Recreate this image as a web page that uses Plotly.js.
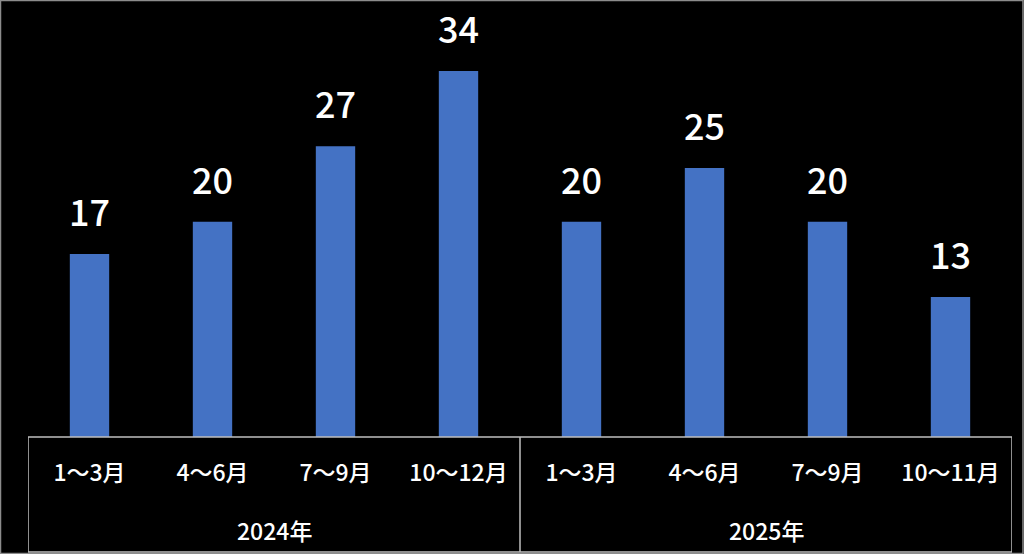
<!DOCTYPE html>
<html>
<head>
<meta charset="utf-8">
<script src="https://cdn.plot.ly/plotly-3.0.1.min.js"></script>
<style>
html,body{margin:0;padding:0;background:#000;}
#chart{width:1024px;height:554px;}
</style>
</head>
<body>
<div id="chart"></div>
<script>
const months = ["1〜3月","4〜6月","7〜9月","10〜12月","1〜3月","4〜6月","7〜9月","10〜11月"];
const years = ["2024年","2025年"];
const counts = [17,20,27,34,20,25,20,13];
const monthsPerYear = [4,4];

const idx = counts.map((_, i) => i);
const FONT = '"Noto Sans CJK JP", "Noto Sans", sans-serif';
const lineColor = '#bfbfbf';

const W = 1024, H = 554;
const L = 28, R = 12, T = 10, B = 117;
const plotW = W - L - R, plotH = H - T - B;
const boxBottom = -(552 - (H - B)) / plotH;

const annotations = [];
counts.forEach((v, i) => {
  annotations.push({
    x: i, y: v, xref: 'x', yref: 'y', text: String(v),
    showarrow: false, yanchor: 'bottom', yshift: 16,
    font: {family: FONT, size: 36, color: '#ffffff', weight: 500}
  });
});
let start = 0;
years.forEach((yr, k) => {
  const n = monthsPerYear[k];
  annotations.push({
    x: start + (n - 1) / 2, y: -(530 - (H - B)) / plotH, xref: 'x', yref: 'paper',
    text: yr, showarrow: false, yanchor: 'middle',
    font: {family: FONT, size: 23, color: '#ffffff', weight: 500}
  });
  start += n;
});

const shapes = [];
shapes.push({type: 'line', xref: 'x', yref: 'paper', x0: -0.5, x1: counts.length - 0.5, y0: 0, y1: 0, line: {color: lineColor, width: 1.5}});
shapes.push({type: 'line', xref: 'x', yref: 'paper', x0: -0.5, x1: counts.length - 0.5, y0: boxBottom, y1: boxBottom, line: {color: lineColor, width: 1.5}});
let acc = 0;
const divs = [-0.5];
monthsPerYear.forEach(n => { acc += n; divs.push(acc - 0.5); });
divs.forEach(xv => {
  shapes.push({type: 'line', xref: 'x', yref: 'paper', x0: xv, x1: xv, y0: 0, y1: boxBottom, line: {color: lineColor, width: 1.5}});
});
shapes.push({type: 'rect', xref: 'paper', yref: 'paper',
  x0: -L / plotW + 0.5 / plotW, x1: 1 + (R - 1) / plotW,
  y0: -B / plotH + 0.5 / plotH, y1: 1 + (T - 0.5) / plotH,
  line: {color: '#8c8c8c', width: 1.5}});

const data = [{
  type: 'bar', x: idx, y: counts,
  marker: {color: '#4472c4'}, width: 0.32,
  hoverinfo: 'skip'
}];

const layout = {
  width: W, height: H,
  margin: {l: L, r: R, t: T, b: B, pad: 0},
  paper_bgcolor: '#000000', plot_bgcolor: '#000000',
  showlegend: false,
  xaxis: {
    range: [-0.5, counts.length - 0.5],
    tickmode: 'array', tickvals: idx, ticktext: months,
    tickfont: {family: FONT, size: 23, color: '#ffffff', weight: 500},
    ticks: '', ticklen: 0, showgrid: false, zeroline: false, showline: false,
    ticklabelstandoff: 20, fixedrange: true
  },
  yaxis: {
    range: [0, (H - B - T) / 10.765],
    visible: false, showgrid: false, zeroline: false, fixedrange: true
  },
  annotations: annotations,
  shapes: shapes,
  font: {family: FONT, color: '#ffffff'}
};

Plotly.newPlot('chart', data, layout, {displayModeBar: false, staticPlot: true});
</script>
</body>
</html>
